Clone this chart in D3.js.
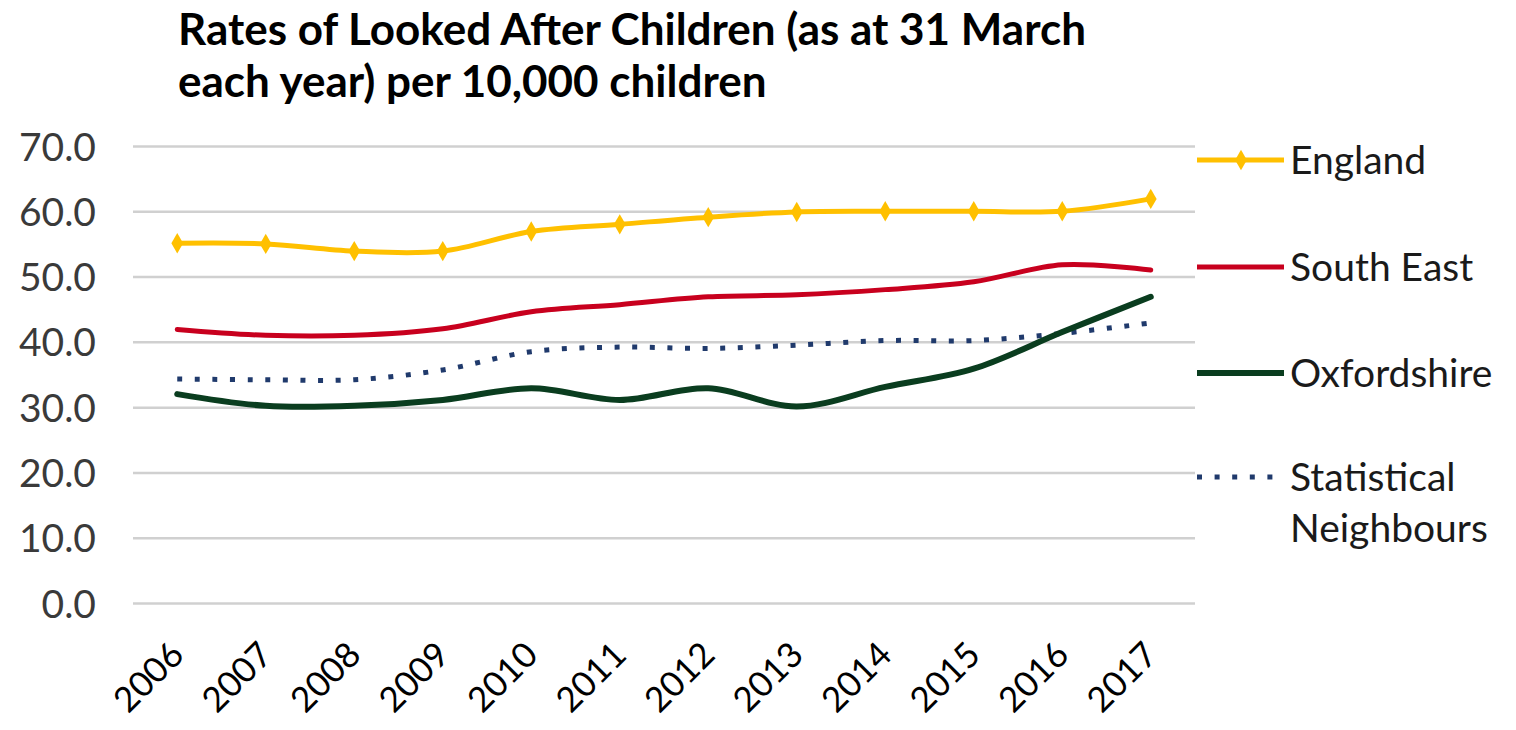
<!DOCTYPE html>
<html><head><meta charset="utf-8">
<script src="https://cdn.jsdelivr.net/npm/d3@7"></script>
<style>
html,body{margin:0;padding:0;background:#fff;}
svg{display:block;}
</style></head>
<body>
<svg id="chart" width="1516" height="730"></svg>
<script>
const years = ["2006","2007","2008","2009","2010","2011","2012","2013","2014","2015","2016","2017"];
const england = [55.1,55.0,53.9,53.9,56.9,58.0,59.1,59.9,60.0,60.0,60.0,61.9];
const southEast = [41.9,41.0,41.0,42.0,44.6,45.7,46.9,47.2,48.0,49.2,51.8,51.0];
const oxfordshire = [32.0,30.2,30.2,31.1,32.9,31.1,32.9,30.1,33.1,35.9,41.5,46.9];
const statNeighbours = [34.3,34.2,34.2,35.7,38.5,39.2,39.0,39.5,40.2,40.2,41.3,42.9];
const yTicks = [0,10,20,30,40,50,60,70];
const titleLines = ["Rates of Looked After Children (as at 31 March","each year) per 10,000 children"];
const legendNames = ["England","South East","Oxfordshire","Statistical Neighbours"];

const svg = d3.select("#chart");
const FONT = "Lato, 'Open Sans', sans-serif";
const x = d3.scalePoint().domain(years).range([133,1195]).padding(0.5);
const y = d3.scaleLinear().domain([0,70]).range([603,146]);

// title
svg.append("g").selectAll("text").data(titleLines).join("text")
  .attr("x",178).attr("y",(d,i)=>45+i*52)
  .attr("font-family",FONT).attr("font-weight","bold").attr("font-size",44)
  .attr("fill","#000").text(d=>d);

// gridlines + y labels
const yAxis = d3.axisLeft(y).tickValues(yTicks).tickSize(-(1195-133)).tickFormat(d3.format(".1f"));
const ga = svg.append("g").attr("transform","translate(133,0)").call(yAxis);
ga.select(".domain").remove();
ga.selectAll(".tick line").attr("stroke","#d0d0d0").attr("stroke-width",2.5);
ga.selectAll(".tick text").attr("x",-37).attr("dy","0.36em").attr("font-family",FONT).attr("font-size",39).attr("fill","#3a3a3a");

// x axis labels
const xAxis = d3.axisBottom(x).tickSize(0);
const gx = svg.append("g").attr("transform","translate(0,603)").call(xAxis);
gx.select(".domain").remove();
gx.selectAll(".tick text")
  .attr("font-family",FONT).attr("font-size",35).attr("fill","#000")
  .attr("text-anchor","end").attr("dy",0).attr("y",0)
  .attr("transform","translate(8,54) rotate(-45)");

const line = d3.line().x((d,i)=>x(years[i])).y(d=>y(d)).curve(d3.curveCatmullRom.alpha(0.5));

const series = [
  {name:"Statistical Neighbours", vals:statNeighbours, color:"#203a6c", w:5, dash:"5,12.6"},
  {name:"South East", vals:southEast, color:"#c8001e", w:5, dash:null},
  {name:"Oxfordshire", vals:oxfordshire, color:"#0a3d1f", w:6, dash:null},
  {name:"England", vals:england, color:"#ffc000", w:5, dash:null}
];
series.forEach(s=>{
  svg.append("path").datum(s.vals).attr("d",line)
    .attr("fill","none").attr("stroke",s.color).attr("stroke-width",s.w)
    .attr("stroke-dasharray",s.dash).attr("stroke-linecap",s.dash?"butt":"round");
});
// England markers
svg.append("g").selectAll("path").data(england).join("path")
  .attr("d",d3.symbol().type(d3.symbolDiamond).size(120))
  .attr("transform",(d,i)=>`translate(${x(years[i])},${y(d)})`)
  .attr("fill","#ffc000");

// legend
const legY = [160,267,373,477];
const legStyle = {
  "England":{c:"#ffc000",w:5,dash:null},
  "South East":{c:"#c8001e",w:5,dash:null},
  "Oxfordshire":{c:"#0a3d1f",w:6,dash:null},
  "Statistical Neighbours":{c:"#203a6c",w:5,dash:"5,12.6"}
};
const lg = svg.append("g");
legendNames.forEach((n,i)=>{
  const st = legStyle[n];
  lg.append("line").attr("x1",1197).attr("x2",1284).attr("y1",legY[i]).attr("y2",legY[i])
    .attr("stroke",st.c).attr("stroke-width",st.w).attr("stroke-dasharray",st.dash);
  if(n==="England"){
    lg.append("path").attr("d",d3.symbol().type(d3.symbolDiamond).size(120)())
      .attr("transform",`translate(1241,${legY[i]})`).attr("fill",st.c);
  }
  const words = n==="Statistical Neighbours" ? ["Statistical","Neighbours"] : [n];
  words.forEach((w,j)=>{
    lg.append("text").attr("x",1290).attr("y",legY[i]+14+j*51)
      .attr("font-family",FONT).attr("font-size",39).attr("fill","#1a1a1a").text(w);
  });
});
</script>
</body></html>
